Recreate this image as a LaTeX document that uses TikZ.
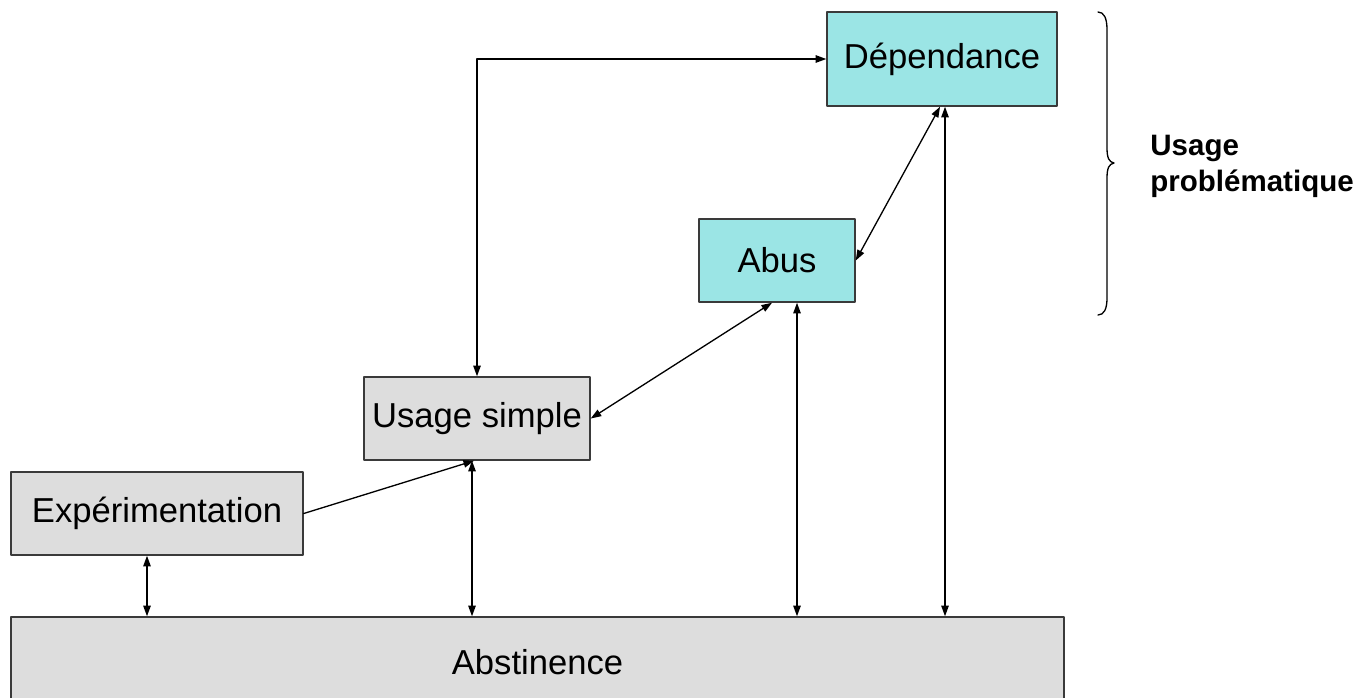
\documentclass[tikz,border=0pt]{standalone}
\usepackage{fontspec}
\setmainfont{Liberation Sans}
\usetikzlibrary{arrows.meta}
\definecolor{turq}{HTML}{9BE5E5}
\definecolor{grisclair}{HTML}{DDDDDD}
\definecolor{bord}{HTML}{3A3A3A}

\begin{document}
\begin{tikzpicture}[line cap=round,line join=round,>={Triangle[length=6pt,width=4.2pt]},x=0.02cm,y=-0.02cm,
  boite/.style={draw=bord,line width=0.85pt,minimum height=1.66cm,inner sep=0pt,font=\fontsize{19.7}{24}\selectfont},
  gris/.style={boite,fill=grisclair},
  cyan/.style={boite,fill=turq},
  fl/.style={<->,line width=0.75pt}]
      \useasboundingbox (0,0) rectangle (1371,697);
      % les boites
      \node[cyan,minimum width=4.6cm,minimum height=1.88cm] (dep) at (942,59) {Dépendance};
      \node[cyan,minimum width=3.12cm] (abus) at (777,260.5) {Abus};
      \node[gris,minimum width=4.52cm] (simple) at (477,418.5) {Usage simple};
      \node[gris,minimum width=5.84cm] (exp) at (157,513.5) {Expérimentation};
      \node[gris,minimum width=21.06cm,minimum height=1.8cm] (abst) at (537.5,662) {Abstinence};
      % les fleches
      \draw[fl] (dep.west) -| (simple.north);
      \draw[fl] (abus.east) -- ([xshift=-0.04cm]dep.south);
      \draw[fl] (simple.east) -- ([xshift=-0.1cm]abus.south);
      \draw[->,line width=0.75pt] (exp.east) -- ([xshift=-0.06cm]simple.south);
      \foreach \n/\dx in {exp/-0.2,simple/-0.1,abus/0.4,dep/0.06}
      \draw[fl] ([xshift=\dx cm]\n.south) -- ([xshift=\dx cm]\n.south |- abst.north);
      % accolade
      \draw[line width=0.75pt] (1098,12) .. controls (1104,12) and (1107,18) .. (1107,30) -- (1107,148)
        .. controls (1107,158) and (1109,162) .. (1114,163) .. controls (1109,164) and (1107,168) .. (1107,178)
        -- (1107,298) .. controls (1107,309) and (1104,315) .. (1098,315);
      \node[anchor=west,align=left,inner sep=0pt,font=\bfseries\fontsize{16.8}{20.5}\selectfont] (probl) at (1150,166) {Usage\\problématique};
\end{tikzpicture}
\end{document}
